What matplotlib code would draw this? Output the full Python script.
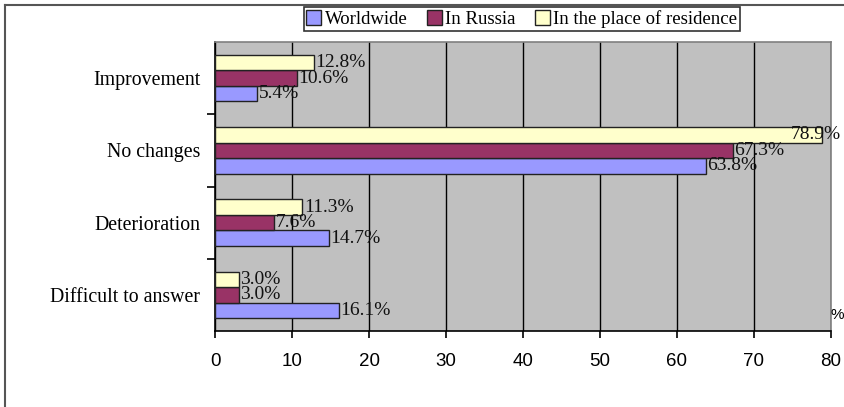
import matplotlib
matplotlib.use("Agg")
import matplotlib.pyplot as plt
from matplotlib.lines import Line2D
from matplotlib.patches import Patch
import numpy as np

categories = ["Improvement", "No changes", "Deterioration", "Difficult to answer"]
worldwide = [5.4, 63.8, 14.7, 16.1]
in_russia = [10.6, 67.3, 7.6, 3.0]
residence = [12.8, 78.9, 11.3, 3.0]
series_names = ["Worldwide", "In Russia", "In the place of residence"]
series_colors = ["#9999ff", "#993366", "#ffffcc"]
x_ticks = [0, 10, 20, 30, 40, 50, 60, 70, 80]

W, H = 845, 407
fig = plt.figure(figsize=(W / 100, H / 100), dpi=100)
ax = fig.add_axes([215.5 / W, 1 - 331 / H, (830.7 - 215.5) / W, (331 - 42) / H])
ax.set_facecolor("#c0c0c0")

serif = "Liberation Serif"
n = len(categories)
bar_h = 0.215
y_centers = np.arange(n)[::-1].astype(float)  # first category on top

series = [worldwide, in_russia, residence]
offsets = [-bar_h, 0.0, bar_h]
for vals, off, col in zip(series, offsets, series_colors):
    ys = y_centers + off
    ax.barh(ys, vals, height=bar_h, color=col, edgecolor="#222222",
            linewidth=1.0, zorder=3)
    for y, v in zip(ys, vals):
        txt = f"{v:.1f}%"
        if v > 75:
            # keep the longest label inside the figure
            ax.annotate(txt, (v, y), xytext=(13.5, 0), textcoords="offset points",
                        ha="right", va="center", fontsize=14, family=serif,
                        color="#111111", zorder=4, annotation_clip=False)
        else:
            ax.annotate(txt, (v, y), xytext=(1, 0), textcoords="offset points",
                        ha="left", va="center", fontsize=14, family=serif,
                        color="#111111", zorder=4, annotation_clip=False)

ax.set_xlim(0, 80)
ax.set_ylim(-0.5, n - 0.5)
ax.set_xticks(x_ticks)
ax.set_xticklabels([str(t) for t in x_ticks], family="Liberation Sans", fontsize=13.5)
ax.xaxis.grid(True, color="black", linewidth=1.0, zorder=1)
ax.set_axisbelow(True)

# category boundary ticks on the y-axis, labels centred between them
ax.set_yticks(np.arange(n - 1) + 0.5)
ax.set_yticklabels([])
ax.set_yticks(y_centers, minor=True)
ax.set_yticklabels(categories, minor=True, family=serif, fontsize=14.3)
ax.tick_params(axis="y", which="minor", length=0, pad=11)
ax.tick_params(axis="y", which="major", length=6, width=1.2, direction="out")
ax.tick_params(axis="x", length=5, width=1.2, direction="out", pad=11)

for side in ["left", "bottom"]:
    ax.spines[side].set_color("black")
    ax.spines[side].set_linewidth(1.2)
for side in ["top", "right"]:
    ax.spines[side].set_color("#808080")
    ax.spines[side].set_linewidth(1.2)

fig.text(831 / W, 1 - 315 / H, "%", family="Liberation Sans", fontsize=11,
         ha="left", va="center")

handles = [Patch(facecolor=c, edgecolor="#222222", linewidth=1.0) for c in series_colors]
leg = fig.legend(handles, series_names, loc="center", ncol=3,
                 bbox_to_anchor=(522 / W, 1 - 19 / H),
                 prop={"family": serif, "size": 13.5}, frameon=True,
                 fancybox=False, edgecolor="black", handlelength=0.8,
                 handleheight=0.8, handletextpad=0.2, columnspacing=1.0,
                 borderpad=0.15, borderaxespad=0)
leg.get_frame().set_linewidth(1.2)

# outer frame of the chart area
fig.add_artist(Line2D([5 / W, 5 / W], [0, 1 - 5 / H], color="#555555", linewidth=1.5))
fig.add_artist(Line2D([5 / W, 1], [1 - 5 / H, 1 - 5 / H], color="#555555", linewidth=1.5))

fig.savefig("out.png", dpi=100)
